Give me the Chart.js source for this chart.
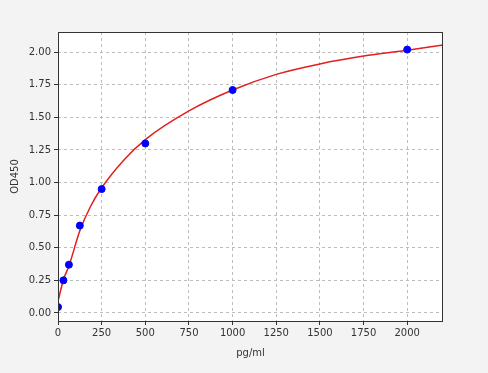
<!DOCTYPE html>
<html>
<head>
<meta charset="utf-8">
<script src="https://cdn.jsdelivr.net/npm/chart.js@4"></script>
<style>
  html, body { margin: 0; padding: 0; background: #f3f3f3; }
  canvas { display: block; }
</style>
</head>
<body>
<canvas id="chart" width="488" height="373"></canvas>
<script>
// standard points (concentration pg/ml vs OD450)
const concentrations = [0, 31.25, 62.5, 125, 250, 500, 1000, 2000];
const odValues = [0.045, 0.25, 0.37, 0.67, 0.95, 1.30, 1.71, 2.02];

// fitted curve
const curveX = [0, 31.25, 62.5, 125, 187.5, 250, 375, 500, 750, 1000, 1250, 1500, 1750, 2000, 2205];
const curveY = [0.09, 0.255, 0.36, 0.63, 0.82, 0.96, 1.17, 1.33, 1.55, 1.71, 1.83, 1.91, 1.97, 2.015, 2.055];

const xTicks = [0, 250, 500, 750, 1000, 1250, 1500, 1750, 2000];
const yTicks = [0, 0.25, 0.5, 0.75, 1.0, 1.25, 1.5, 1.75, 2.0];

const fontCfg = { family: 'DejaVu Sans', size: 10 };

// white plot area + full frame, like matplotlib
const frame = {
  id: 'frame',
  beforeDraw(chart) {
    const { ctx, chartArea: a } = chart;
    ctx.save();
    ctx.fillStyle = '#ffffff';
    ctx.fillRect(a.left, a.top, a.right - a.left, a.bottom - a.top);
    ctx.restore();
  },
  afterDraw(chart) {
    const { ctx, chartArea: a } = chart;
    ctx.save();
    ctx.strokeStyle = '#333333';
    ctx.lineWidth = 1;
    ctx.strokeRect(a.left + 0.5, a.top + 0.5, a.right - a.left - 1, a.bottom - a.top);
    ctx.restore();
  }
};

const ctx = document.getElementById('chart').getContext('2d');
new Chart(ctx, {
  type: 'scatter',
  data: {
    datasets: [
      {
        label: 'points',
        data: concentrations.map((x, i) => ({ x: x, y: odValues[i] })),
        backgroundColor: '#0000ff',
        borderColor: '#0000ff',
        pointRadius: 3.5,
        order: 0,
      },
      {
        label: 'fit',
        type: 'line',
        data: curveX.map((x, i) => ({ x: x, y: curveY[i] })),
        borderColor: '#e0201c',
        borderWidth: 1.5,
        pointRadius: 0,
        fill: false,
        cubicInterpolationMode: 'monotone',
        order: 1,
      },
    ],
  },
  options: {
    responsive: false,
    animation: false,
    layout: { padding: { left: 9, top: 32, right: 45, bottom: 14 } },
    plugins: {
      legend: { display: false },
      tooltip: { enabled: false },
    },
    scales: {
      x: {
        type: 'linear',
        min: 0,
        max: 2205,
        afterBuildTicks: (s) => { s.ticks = xTicks.map(v => ({ value: v })); },
        afterFit: (s) => { s.height = 38; },
        ticks: {
          color: '#333',
          font: fontCfg,
          padding: 2,
          maxRotation: 0,
          callback: (v) => String(v),
        },
        grid: {
          color: '#bdbdbd',
          tickBorderDash: [],
          tickColor: '#333',
          tickLength: 4,
        },
        border: { display: false, dash: [3, 3] },
        title: { display: true, text: 'pg/ml', color: '#333', font: fontCfg, padding: { top: 2, bottom: 0 } },
      },
      y: {
        type: 'linear',
        min: -0.062,
        max: 2.155,
        afterBuildTicks: (s) => { s.ticks = yTicks.map(v => ({ value: v })); },
        afterFit: (s) => { s.width = 49; },
        ticks: {
          color: '#333',
          font: fontCfg,
          padding: 3,
          callback: (v) => Number(v).toFixed(2),
        },
        grid: {
          color: '#bdbdbd',
          tickBorderDash: [],
          tickColor: '#333',
          tickLength: 4,
        },
        border: { display: false, dash: [3, 3] },
        title: { display: true, text: 'OD450', color: '#333', font: fontCfg, padding: { top: 0, bottom: 2 } },
      },
    },
  },
  plugins: [frame],
});
</script>
</body>
</html>
